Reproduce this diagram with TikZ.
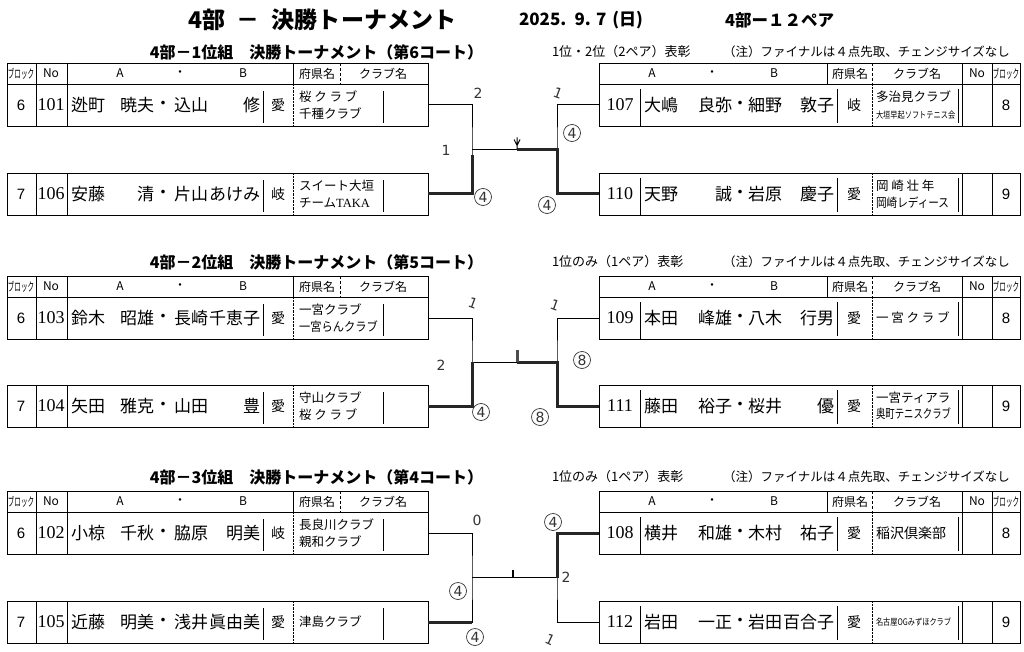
\documentclass[tikz,border=0pt]{standalone}
\usepackage{fontspec}
\usepackage{graphicx}
\setmainfont{Noto Sans CJK JP}
\newfontfamily\numfont{Liberation Serif}
\newfontfamily\latfont{Liberation Sans}
\newfontfamily\handfont{DejaVu Sans}
\usetikzlibrary{positioning,calc}

\begin{document}
\begin{tikzpicture}[x=1pt,y=-1pt,
  every node/.style={inner sep=0pt,outer sep=0pt},
  frame/.style={draw,line width=0.9pt},
  rowbox/.style={frame,anchor=north west,minimum width=421pt,minimum height=42pt},
  headbox/.style={frame,anchor=north west,minimum width=421pt,minimum height=21pt},
  headtxt/.style={font=\fontsize{12}{12}\selectfont},
  nametxt/.style={font=\fontsize{17}{17}\selectfont},
  preftxt/.style={font=\fontsize{14}{14}\selectfont},
  clubtxt/.style={anchor=west,align=left,font=\fontsize{12.5}{16.5}\selectfont},
  numtxt/.style={font=\numfont\fontsize{18}{18}\selectfont},
  blktxt/.style={font=\latfont\fontsize{15}{15}\selectfont},
  subtitle/.style={font=\bfseries\fontsize{16}{16}\selectfont},
  note/.style={anchor=west,font=\fontsize{12.5}{12.5}\selectfont},
  bracket/.style={line width=1pt},
  win/.style={line width=3pt,black!85},
  hand/.style={font=\handfont\fontsize{14}{14}\selectfont,text=black!80},
  circ/.style={hand,draw=black!80,circle,minimum size=17pt,line width=0.7pt}]

\useasboundingbox[fill=white] (0,0) rectangle (1024,652);

\node[font=\bfseries\fontsize{23}{23}\selectfont,anchor=west] (title) at (188,20) {4部\hspace{12pt}－\hspace{12pt}決勝トーナメント};
\node[font=\bfseries\fontsize{17}{17}\selectfont,anchor=west] (date) at (519,20) {2025. \hspace{3pt}9. 7 \hspace{2pt}(日)};
\node[font=\bfseries\fontsize{16.5}{16.5}\selectfont,anchor=west] (pairs) at (725,20) {4部ー１２ペア};

\foreach \sn/\ty/\sy/\ct/\aw in {1/63/52/6/{1位・2位（2ペア）表彰},
    2/276/262/5/{1位のみ（1ペア）表彰}, 3/491/477/4/{1位のみ（1ペア）表彰}} {
  \node[subtitle,anchor=east] (sub\sn) at (483,\sy) {4部－\sn 位組　決勝トーナメント（第\ct コート）};
  \node[note,font=\fontsize{13}{13}\selectfont] (aw\sn) at (552,\sy) {\aw};
  \node[note] (rule\sn) at (723,\sy) {（注）ファイナルは４点先取、チェンジサイズなし};
  \node[headbox] (hl\sn) at (7,\ty) {};
  \node[headbox] (hr\sn) at (599,\ty) {};
  \pgfmathsetmacro\my{\ty+10.5}
  \pgfmathsetmacro\ey{\ty+21}
  \foreach \x in {36,67,293,827,962,992} \draw[frame] (\x,\ty) -- (\x,\ey);
  \foreach \x in {340,872} \draw[densely dashed] (\x,\ty) -- (\x,\ey);
  \foreach \x/\txt in {51/No,120/A,180/・,243/B,317/府県名,383/クラブ名,
      652/A,712/・,774/B,850/府県名,917/クラブ名,977/No}
    \node[headtxt] at (\x,\my) {\txt};
  \foreach \x in {21,1006} \node[headtxt] at (\x,\my) {\scalebox{.55}[1]{ブロック}};
}

\foreach \id/\ty/\blk/\sA/\gA/\sB/\gB/\pf/\club in {
    101/84/6/迯町/暁夫/込山/修/愛/{桜 ク ラ ブ\\千種クラブ},
    106/173/7/安藤/清/片山/あけみ/岐/{スイート大垣\\チーム{\numfont TAKA}},
    103/297/6/鈴木/昭雄/長崎/千恵子/愛/{一宮クラブ\\\scalebox{.9}[1]{一宮らんクラブ}},
    104/385/7/矢田/雅克/山田/豊/愛/{守山クラブ\\桜 ク ラ ブ},
    102/512/6/小椋/千秋/脇原/明美/岐/{長良川クラブ\\親和クラブ},
    105/601/7/近藤/明美/浅井/眞由美/愛/{津島クラブ}} {
  \pgfmathsetmacro\cy{\ty+21}
  \pgfmathsetmacro\by{\ty+42}
  \pgfmathsetmacro\iy{\ty+7}
  \pgfmathsetmacro\jy{\ty+39}
  \node[rowbox] (p\id) at (7,\ty) {};
  \draw[frame] (36,\ty) -- (36,\by) (67,\ty) -- (67,\by) (263,\iy) -- (263,\jy) (383,\iy) -- (383,\jy);
  \draw[densely dotted] (293,\ty) -- (293,\by);
  \node[blktxt] at (21,\cy) {\blk};
  \node[numtxt] at (51,\cy) {\id};
  \node[nametxt,anchor=west] at (71,\cy) {\sA};
  \node[nametxt,anchor=east] at (154,\cy) {\gA};
  \node[nametxt] at (163,\cy) {・};
  \node[nametxt,anchor=west] at (174,\cy) {\sB};
  \node[nametxt,anchor=east] at (260,\cy) {\gB};
  \node[preftxt] at (278,\cy) {\pf};
  \node[clubtxt] at (299,\cy) {\club};
}

\foreach \id/\ty/\blk/\sA/\gA/\sB/\gB/\pf/\club in {
    107/84/8/大嶋/良弥/細野/敦子/岐/{多治見クラブ\\{\fontsize{9}{10}\selectfont\scalebox{.8}[1]{大垣早起ソフトテニス会}}},
    110/173/9/天野/誠/岩原/慶子/愛/{岡 崎 壮 年\\\scalebox{.85}[1]{岡崎レディース}},
    109/297/8/本田/峰雄/八木/行男/愛/{一 宮 ク ラ ブ},
    111/385/9/藤田/裕子/桜井/優/愛/{一宮ティアラ\\\scalebox{.75}[1]{奥町テニスクラブ}},
    108/512/8/横井/和雄/木村/祐子/愛/{{\fontsize{14}{16}\selectfont 稲沢倶楽部}},
    112/601/9/岩田/一正/岩田/百合子/愛/{{\fontsize{9}{10}\selectfont\scalebox{.8}[1]{名古屋OGみずほクラブ}}}} {
  \pgfmathsetmacro\cy{\ty+21}
  \pgfmathsetmacro\by{\ty+42}
  \pgfmathsetmacro\iy{\ty+5}
  \pgfmathsetmacro\jy{\ty+39}
  \node[rowbox] (p\id) at (599,\ty) {};
  \draw[frame] (640,\iy) -- (640,\by) (837,\iy) -- (837,\jy) (958,\iy) -- (958,\jy)
    (962,\ty) -- (962,\by) (992,\ty) -- (992,\by);
  \draw[densely dotted] (872,\ty) -- (872,\by);
  \node[numtxt] at (620,\cy) {\id};
  \node[nametxt,anchor=west] at (644,\cy) {\sA};
  \node[nametxt,anchor=east] at (732,\cy) {\gA};
  \node[nametxt] at (740,\cy) {・};
  \node[nametxt,anchor=west] at (748,\cy) {\sB};
  \node[nametxt,anchor=east] at (834,\cy) {\gB};
  \node[preftxt] at (854,\cy) {\pf};
  \node[clubtxt] at (876,\cy) {\club};
  \node[blktxt] at (1006,\cy) {\blk};
}

\foreach \a/\b/\c/\d/\k in {101/106/107/110/1, 103/104/109/111/2, 102/105/108/112/3} {
  \coordinate (jl\k) at ($(p\a.east)!0.5!(p\b.east) + (44,0)$);
  \coordinate (jr\k) at ($(p\c.west)!0.5!(p\d.west) + (-42,0)$);
  \coordinate (mk\k) at ($(jl\k)!0.53!(jr\k)$);
  \draw[bracket] (p\a.east) -| (jl\k) |- (p\b.east);
  \draw[bracket] (p\c.west) -| (jr\k) |- (p\d.west);
  \draw[bracket] (jl\k) -- (jr\k);
}

\draw[win] (p106.east) -| ($(jl1)+(0,6)$);
\draw[win] (mk1) -- (jr1) |- (p110.west);
\draw[win] (p104.east) -| (jl2);
\draw[win] (mk2) -- (jr2) |- (p111.west);
\draw[win] (p105.east) -- (p105.east -| jl3);
\draw[win] (jr3) |- (p108.west);
\draw[line width=1pt] (mk1) -- ++(0,-12) (mk1) ++(-3,-10) -- ++(3,6) -- ++(3,-6);
\draw[line width=3pt,black!70] (mk2) -- ++(0,-12);
\draw[line width=1.2pt] (mk3) ++(-4,0) -- ++(0,-8);

\node[hand] (sc1a) at (478,93) {2};
\node[hand] (sc1b) at (446,150) {1};
\node[circ] (sc1c) at (483,197) {4};
\node[hand,rotate=-20] (sc1d) at (558,93) {1};
\node[circ] (sc1e) at (572,133) {4};
\node[circ] (sc1f) at (547,205) {4};
\node[hand,rotate=-20] (sc2a) at (473,303) {1};
\node[hand] (sc2b) at (441,365) {2};
\node[circ] (sc2c) at (481,412) {4};
\node[hand,rotate=-20] (sc2d) at (555,305) {1};
\node[circ] (sc2e) at (582,360) {8};
\node[circ] (sc2f) at (540,417) {8};
\node[hand] (sc3a) at (477,520) {0};
\node[circ] (sc3b) at (458,591) {4};
\node[circ] (sc3c) at (475,637) {4};
\node[circ] (sc3d) at (553,522) {4};
\node[hand] (sc3e) at (566,577) {2};
\node[hand,rotate=-25] (sc3f) at (550,640) {1};
\end{tikzpicture}
\end{document}
